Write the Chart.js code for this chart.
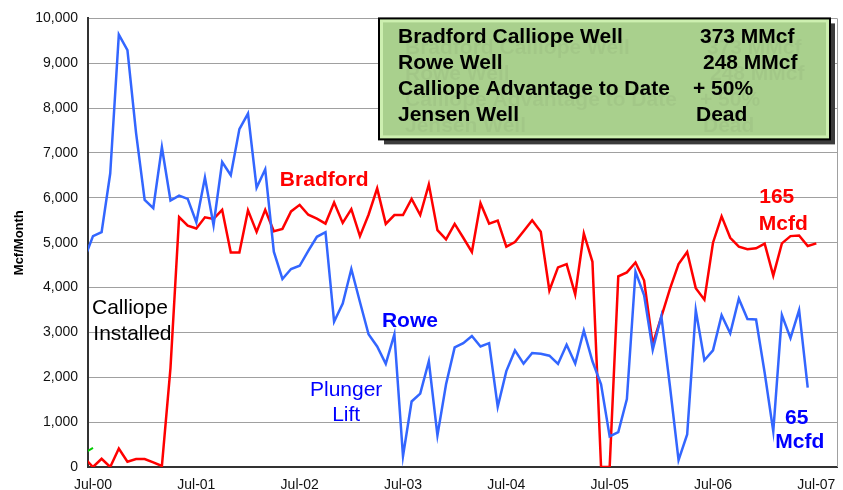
<!DOCTYPE html>
<html>
<head>
<meta charset="utf-8">
<script src="https://cdn.jsdelivr.net/npm/chart.js@4"></script>
<style>
html,body{margin:0;padding:0;background:#fff;}
#wrap{width:843px;height:490px;position:relative;}
canvas{display:block;}
</style>
</head>
<body>
<div id="wrap"><canvas id="c" width="843" height="490"></canvas></div>
<script>
// Month index: 0 = Jul-00, 12 = Jul-01, ... 84 = Jul-07
const monthIndex = [-1,0,1,2,3,4,5,6,7,8,9,10,11,12,13,14,15,16,17,18,19,20,21,22,23,24,25,26,27,28,29,30,31,32,33,34,35,36,37,38,39,40,41,42,43,44,45,46,47,48,49,50,51,52,53,54,55,56,57,58,59,60,61,62,63,64,65,66,67,68,69,70,71,72,73,74,75,76,77,78,79,80,81,82,83,84];

const bradford = [200,0,184,0,411,117,176,176,103,22,2210,5573,5382,5316,5565,5529,5734,4780,4780,5720,5242,5734,5257,5308,5698,5844,5624,5536,5426,5896,5441,5749,5147,5624,6211,5419,5617,5617,5976,5617,6300,5279,5073,5419,5110,4794,5881,5426,5492,4912,5015,5257,5499,5242,3935,4449,4523,3847,5206,4574,0,0,4251,4339,4559,4156,2739,3348,3972,4523,4794,3987,3730,5000,5587,5110,4912,4853,4875,4978,4266,4985,5147,5161,4927,4985];

const rowe = [4640,5147,5235,6542,9640,9295,7450,5955,5771,7129,5940,6050,5977,5455,6454,5389,6799,6505,7533,7878,6226,6637,4800,4192,4413,4486,4816,5132,5235,3238,3642,4413,3678,2959,2687,2298,2959,242,1461,1637,2357,705,1843,2665,2761,2922,2687,2761,1344,2137,2599,2305,2540,2526,2482,2298,2724,2305,3040,2357,1843,683,778,1512,4354,3825,2614,3363,1800,154,727,3495,2379,2599,3385,2981,3752,3297,3289,2100,793,3385,2871,3495,1769,null];

const jensenMonths = [-1,0];
const jensen = [312,426];

const tickMonths = [0,12,24,36,48,60,72,84];
const tickLabels = ['Jul-00','Jul-01','Jul-02','Jul-03','Jul-04','Jul-05','Jul-06','Jul-07'];

const boxRows = [
  ['Bradford Calliope Well', '373 MMcf'],
  ['Rowe Well', '248 MMcf'],
  ['Calliope Advantage to Date', '+ 50%'],
  ['Jensen Well', 'Dead']
];

// text annotations placed in data coordinates (month, value)
const notes = [
  {t:'Bradford', m:26.85, v:6256, c:'#FF0000', b:true},
  {t:'Rowe', m:36.8, v:3128, c:'#0000FF', b:true},
  {t:'Plunger', m:29.4, v:1586, c:'#0000FF', b:false},
  {t:'Lift', m:29.4, v:1035, c:'#0000FF', b:false},
  {t:'Calliope', m:4.29, v:3414, c:'#000000', b:false},
  {t:'Installed', m:4.58, v:2841, c:'#000000', b:false},
  {t:'165', m:79.4, v:5881, c:'#FF0000', b:true},
  {t:'Mcfd', m:80.16, v:5286, c:'#FF0000', b:true},
  {t:'65', m:81.73, v:969, c:'#0000FF', b:true},
  {t:'Mcfd', m:82.08, v:418, c:'#0000FF', b:true}
];

const FONT = "'Liberation Sans', Arial, Helvetica, sans-serif";
Chart.defaults.font.family = FONT;

const framePlugin = {
  id:'frame',
  beforeDatasetsDraw(chart){
    const {ctx, chartArea:a} = chart;
    ctx.save();
    ctx.strokeStyle = '#A0A0A0';
    ctx.lineWidth = 1;
    ctx.beginPath();
    ctx.moveTo(Math.round(a.right)+0.5, a.top);
    ctx.lineTo(Math.round(a.right)+0.5, a.bottom);
    ctx.stroke();
    ctx.restore();
  }
};

const notesPlugin = {
  id:'notes',
  afterDatasetsDraw(chart){
    const {ctx, scales:{x,y}} = chart;
    ctx.save();
    ctx.textAlign = 'center';
    ctx.textBaseline = 'alphabetic';
    notes.forEach(n=>{
      ctx.font = (n.b?'bold ':'') + '21px ' + FONT;
      ctx.fillStyle = n.c;
      ctx.fillText(n.t, x.getPixelForValue(n.m), y.getPixelForValue(n.v));
    });
    ctx.restore();
  },
  afterDraw(chart){
    const ctx = chart.ctx;
    const a = chart.chartArea;
    const bx = 379, by = a.top, bw = 451, bh = 121;
    ctx.save();
    // shadow
    ctx.fillStyle = '#3c3c3c';
    ctx.fillRect(bx+5, by+5, bw, bh);
    // fill
    ctx.fillStyle = '#A9D08D';
    ctx.fillRect(bx, by, bw, bh);
    // inner light edge
    ctx.strokeStyle = '#CDEFB0';
    ctx.lineWidth = 3;
    ctx.strokeRect(bx+2.5, by+2.5, bw-5, bh-5);
    // border
    ctx.strokeStyle = '#000';
    ctx.lineWidth = 2;
    ctx.strokeRect(bx, by, bw, bh);
    // text
    ctx.font = 'bold 21px ' + FONT;
    ctx.textAlign = 'left';
    ctx.textBaseline = 'alphabetic';
    const baselines = [42.5, 68.5, 94.5, 120.5];
    const rightX = [700, 703, 693, 696];
    // faint ghost text
    ctx.fillStyle = 'rgba(0,0,0,0.04)';
    boxRows.forEach((r,i)=>{
      ctx.fillText(r[0], 398+7, baselines[i]+11);
      ctx.fillText(r[1], rightX[i]+7, baselines[i]+11);
    });
    ctx.fillStyle = '#000';
    boxRows.forEach((r,i)=>{
      ctx.fillText(r[0], 398, baselines[i]);
      ctx.fillText(r[1], rightX[i], baselines[i]);
    });
    ctx.restore();
  }
};

new Chart(document.getElementById('c'), {
  type:'line',
  data:{
    datasets:[
      {label:'Bradford', data: monthIndex.map((m,i)=>({x:m, y:bradford[i]})), borderColor:'#FF0000', backgroundColor:'#FF0000', borderWidth:2.5, pointRadius:0, tension:0, spanGaps:false, order:2},
      {label:'Rowe', data: monthIndex.map((m,i)=>({x:m, y:rowe[i]})), borderColor:'#3366FF', backgroundColor:'#3366FF', borderWidth:2.5, pointRadius:0, tension:0, spanGaps:false, order:1},
      {label:'Jensen', data: jensenMonths.map((m,i)=>({x:m, y:jensen[i]})), borderColor:'#00CC00', backgroundColor:'#00CC00', borderWidth:2, pointRadius:0, tension:0, order:0}
    ]
  },
  options:{
    responsive:false,
    animation:false,
    devicePixelRatio:1,
    layout:{padding:{left:0, right:6, top:13, bottom:0}},
    plugins:{legend:{display:false}, tooltip:{enabled:false}},
    scales:{
      x:{
        type:'linear', min:-0.58, max:86.4,
        grid:{display:false, drawTicks:false},
        border:{display:true, color:'#333333', width:2},
        afterBuildTicks:(s)=>{ s.ticks = tickMonths.map(v=>({value:v})); },
        ticks:{
          autoSkip:false, maxRotation:0, minRotation:0,
          callback:(v)=>tickLabels[tickMonths.indexOf(v)],
          font:{size:14}, color:'#111', padding:10
        },
        afterFit:(s)=>{ s.height = 23; s.paddingLeft = 0; s.paddingRight = 0; }
      },
      y:{
        min:0, max:10000,
        ticks:{stepSize:1000, callback:(v)=>v.toLocaleString('en-US'), font:{size:14}, color:'#111', padding:10},
        grid:{color:'#A0A0A0', lineWidth:1, drawTicks:false},
        border:{display:true, color:'#333333', width:2},
        title:{display:true, text:'Mcf/Month', font:{size:13, weight:'bold'}, color:'#000', padding:{top:12, bottom:0}},
        afterFit:(s)=>{ s.width = 88; }
      }
    }
  },
  plugins:[framePlugin, notesPlugin]
});
</script>
</body>
</html>
